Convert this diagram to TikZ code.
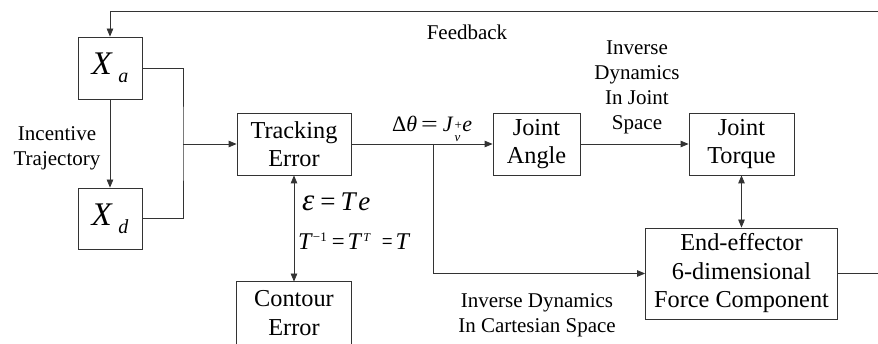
\documentclass[tikz,border=0pt]{standalone}
\usepackage{fontspec}
\usepackage{graphicx}
\setmainfont{Liberation Serif}
\usetikzlibrary{arrows.meta,calc}
\tikzset{
  boxnode/.style={draw=black!80, line width=0.8pt, inner sep=0pt, align=center,
    font=\fontsize{24.3}{28.5}\selectfont},
  lbl/.style={inner sep=0pt, align=center, font=\fontsize{21}{25}\selectfont},
  mathlbl/.style={inner sep=0pt, anchor=base west},
  conn/.style={draw=black!80, line width=0.8pt},
  arr/.style={conn, -{Triangle[length=8pt,width=6.5pt]}},
  darr/.style={conn, {Triangle[length=8pt,width=6.5pt]}-{Triangle[length=8pt,width=6.5pt]}},
}
\newcommand\supsub[2]{\raisebox{-4.5pt}{\fontsize{13}{12}\selectfont\begin{tabular}[c]{@{}l@{}}#1\\#2\end{tabular}}}
\newcommand\wideeq[1]{\scalebox{#1}[1]{=}}
\begin{document}
\begin{tikzpicture}[x=1pt,y=-1pt]
\useasboundingbox (0,0) rectangle (878,344);
% boxes
\node[boxnode, minimum width=64pt, minimum height=62pt] (xa) at (110,68)
  {\fontsize{33}{33}\selectfont\textit{X}\,\raisebox{-8pt}{\fontsize{20}{20}\selectfont\textit{a}}};
\node[boxnode, minimum width=64pt, minimum height=61pt] (xd) at (110,218.5)
  {\fontsize{33}{33}\selectfont\textit{X}\,\raisebox{-8pt}{\fontsize{20}{20}\selectfont\textit{d}}};
\node[boxnode, minimum width=114pt, minimum height=62pt] (track) at (294,144) {Tracking\\Error};
\node[boxnode, draw=none, minimum width=114pt, minimum height=62pt] (contour) at (294,313) {Contour\\Error};
\draw[conn] (contour.south west) ++(0,10) |- (contour.north east) -- ++(0,72);
\node[boxnode, minimum width=87pt, minimum height=62pt] (angle) at (536.5,144) {Joint\\Angle};
\node[boxnode, minimum width=105pt, minimum height=62pt] (torque) at (741.5,144) {Joint\\Torque};
\node[boxnode, minimum width=192pt, minimum height=91pt] (ee) at (741.5,273.5)
  {End-effector\\6-dimensional\\Force Component};
% coordinates
\coordinate (j1) at (183,144);
\coordinate (j2) at (433,144);
\coordinate (fbR) at (900,11);
% connectors
\draw[arr] (ee.east) -- (fbR |- ee.east) -- (fbR) -| (xa.north);
\draw[arr] (xa.south) -- (xd.north);
\draw[conn] (xa.east) -| (j1) |- (xd.east);
\draw[arr] (j1) -- (track.west);
\draw[arr] (track.east) -- (angle.west);
\draw[arr] (j2) |- (ee.west);
\draw[arr] (angle.east) -- (torque.west);
\draw[darr] (torque.south) -- (ee.north);
\draw[darr] (track.south) -- (contour.north);
% labels
\node[lbl] (lincent) at (57,148) {Incentive\\Trajectory};
\node[lbl] (lfeed) at (467,32) {Feedback};
\node[mathlbl, font=\fontsize{22}{24}\selectfont] (ldtheta) at (392,132)
  {Δ\textit{θ}\kern4pt\wideeq{1.35}\kern5pt\textit{J}\kern1pt\supsub{+}{\textit{v}}\kern0.5pt\textit{e}};
\node[mathlbl, font=\fontsize{27}{28}\selectfont] (leps) at (302,211)
  {{\fontsize{31}{31}\selectfont\textit{ε}}\kern6pt\wideeq{1.0}\kern5pt\textit{T}\kern1pt\textit{e}};
\node[mathlbl, font=\fontsize{24}{26}\selectfont] (ltinv) at (298,250)
  {\textit{T}\raisebox{8.5pt}{\fontsize{13}{13}\selectfont −1}\kern5pt\wideeq{0.95}\kern3pt\textit{T}\kern1pt\raisebox{8.5pt}{\fontsize{12}{12}\selectfont\textit{T}}\kern11pt\wideeq{0.8}\kern3pt\textit{T}};
\node[lbl] (ljoint) at (637,87) {Inverse\\Dynamics\\In Joint\\Space};
\node[lbl] (lcart) at (537,315) {Inverse Dynamics\\In Cartesian Space};
\end{tikzpicture}
\end{document}
